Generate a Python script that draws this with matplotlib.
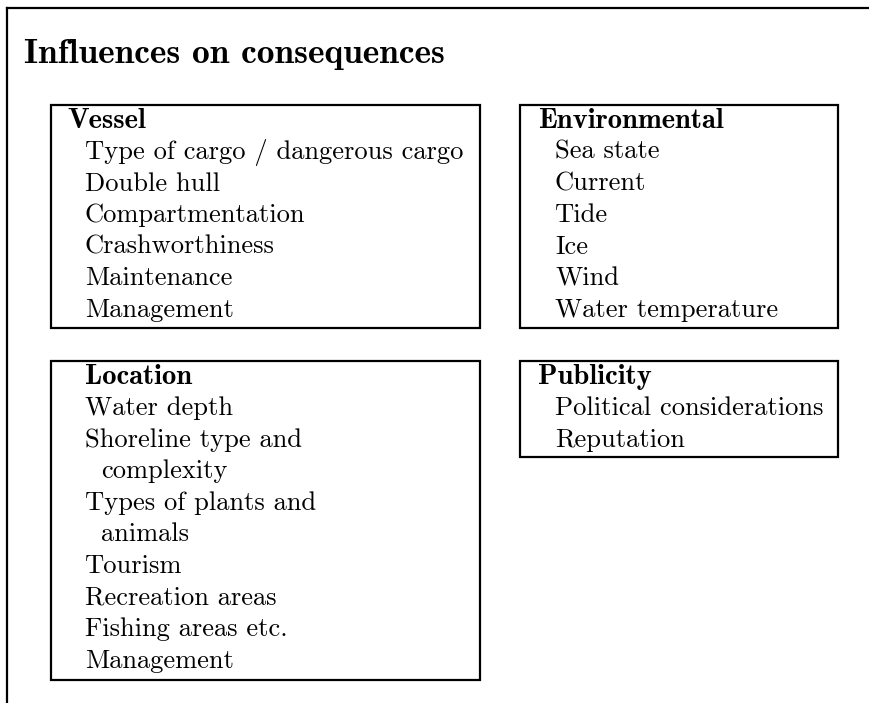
import matplotlib
matplotlib.use("Agg")
import matplotlib.pyplot as plt
from matplotlib.patches import Rectangle

# Inhalt der Kästen
title = "Influences on consequences"
groups = ["Vessel", "Environmental", "Location", "Publicity"]
vessel_items = ["Type of cargo / dangerous cargo", "Double hull", "Compartmentation",
                "Crashworthiness", "Maintenance", "Management"]
env_items = ["Sea state", "Current", "Tide", "Ice", "Wind", "Water temperature"]
location_items = ["Water depth", "Shoreline type and\ncomplexity", "Types of plants and\nanimals",
                  "Tourism", "Recreation areas", "Fishing areas etc.", "Management"]
publicity_items = ["Political considerations", "Reputation"]
items = [vessel_items, env_items, location_items, publicity_items]

# Box-Layout in Pixeln (x0, y0, x1, y1), Kopf-Einrückung
boxes = [(51, 105, 480, 328, 67), (520, 105, 838, 328, 538),
         (51, 361, 480, 680, 85), (520, 361, 838, 457, 538)]
item_indent = [85, 555, 85, 555]

W, H = 869, 703
fig = plt.figure(figsize=(W / 100, H / 100), dpi=100)
ax = fig.add_axes([0, 0, 1, 1])
ax.set_xlim(0, W)
ax.set_ylim(H, 0)
ax.axis("off")

fs = 19.1
fs_head = 20.6
dy = 31.6

# äußerer Rahmen (oben und links)
ax.plot([7, W], [8, 8], color="black", lw=1.6)
ax.plot([7, 7], [8, H], color="black", lw=1.6)

ax.text(24, 55, title, fontfamily="cmb10", fontsize=25.5, va="center", ha="left")

for (x0, y0, x1, y1, hx), name, lst, ix in zip(boxes, groups, items, item_indent):
    ax.add_patch(Rectangle((x0, y0), x1 - x0, y1 - y0, fill=False, lw=1.6, ec="black"))
    y = y0 + 15.5
    ax.text(hx, y, name, fontfamily="cmb10", fontsize=fs_head, va="center", ha="left")
    for it in lst:
        for k, line in enumerate(it.split("\n")):
            y += dy
            ax.text(ix + (16 if k else 0), y, line, fontfamily="cmr10", fontsize=fs,
                    va="center", ha="left")

fig.savefig("out.png", dpi=100)
